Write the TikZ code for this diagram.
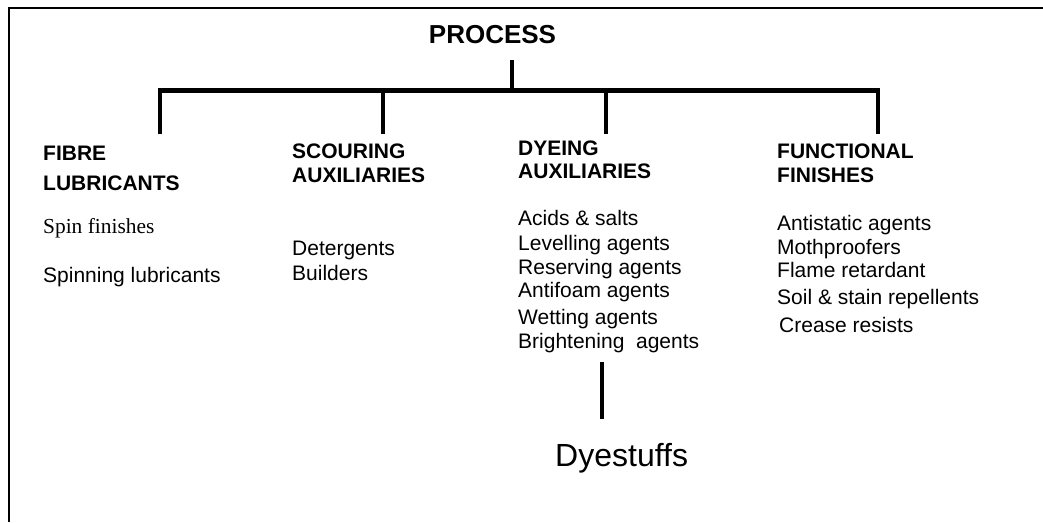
\documentclass[tikz,border=0pt]{standalone}
\usepackage{fontspec}
\setmainfont{Liberation Sans}
\newfontfamily\timesf{Liberation Serif}
\begin{document}
\begin{tikzpicture}[x=1pt,y=-1pt,
  lbl/.style={anchor=base west, inner sep=0pt, font=\fontsize{21}{24}\selectfont},
  head/.style={anchor=base west, inner sep=0pt, font=\fontsize{21}{24}\selectfont\bfseries},
  serifitem/.style={anchor=base west, inner sep=0pt, font=\timesf\fontsize{21.4}{24}\selectfont},
  bar/.style={line width=4.5pt, line cap=butt},
  frameline/.style={line width=2pt}]
\useasboundingbox (0,0) rectangle (1043,522);
% frame
\coordinate (frTR) at (1043,7.5);
\coordinate (frTL) at (9,7.5);
\coordinate (frBL) at (9,522);
\draw[frameline] (frTR) -- (frTL) -- (frBL);

% title
\node[anchor=base, inner sep=0pt, font=\fontsize{26}{30}\selectfont\bfseries] (proc) at (492.5,43) {PROCESS};

% tree connectors
\coordinate (stemtop) at (512,60);
\coordinate (barL) at (157.5,90.5);
\coordinate (barR) at (880.2,90.5);
\coordinate (d1) at (160,134);
\coordinate (d2) at (383,134);
\coordinate (d3) at (606,134);
\coordinate (d4) at (878,134);
\draw[bar] (stemtop) -- (stemtop |- barL);
\draw[bar] (barL) -- (barR);
\foreach \d in {d1,d2,d3,d4} \draw[bar] (\d |- barL) -- (\d);

% headings
\node[head] (fibreA) at (43,160) {FIBRE};
\node[head] (fibreB) at (43,190) {LUBRICANTS};
\node[head] (scourA) at (292,158) {SCOURING};
\node[head] (scourB) at (292,182) {AUXILIARIES};
\node[head] (dyeA) at (518,155) {DYEING};
\node[head] (dyeB) at (518,178) {AUXILIARIES};
\node[head] (funcA) at (777,158) {FUNCTIONAL};
\node[head] (funcB) at (777,182) {FINISHES};

% fibre lubricants
\node[serifitem] (spin) at (43,233) {Spin finishes};
\node[lbl] (spinning) at (43,282) {Spinning lubricants};

% scouring
\node[lbl] (det) at (292,255) {Detergents};
\node[lbl] (build) at (292,280) {Builders};

% dyeing
\node[lbl] (acids) at (518,225) {Acids \& salts};
\node[lbl] (level) at (518,250) {Levelling agents};
\node[lbl] (reserv) at (518,274) {Reserving agents};
\node[lbl] (antifoam) at (518,297) {Antifoam agents};
\node[lbl] (wet) at (518,324) {Wetting agents};
\node[lbl] (bright) at (518,348) {Brightening\ \ agents};

% functional
\node[lbl] (antistat) at (777,230) {Antistatic agents};
\node[lbl] (moth) at (777,254) {Mothproofers};
\node[lbl] (flame) at (777,277) {Flame retardant};
\node[lbl] (soil) at (777,304) {Soil \& stain repellents};
\node[lbl] (crease) at (779,332) {Crease resists};

% dyestuffs
\node[anchor=base west, inner sep=0pt, font=\fontsize{32}{36}\selectfont] (dyes) at (555,466) {Dyestuffs};
\coordinate (dsTop) at (602,362);
\coordinate (dsBot) at (602,419);
\draw[bar] (dsTop) -- (dsBot);
\end{tikzpicture}
\end{document}
